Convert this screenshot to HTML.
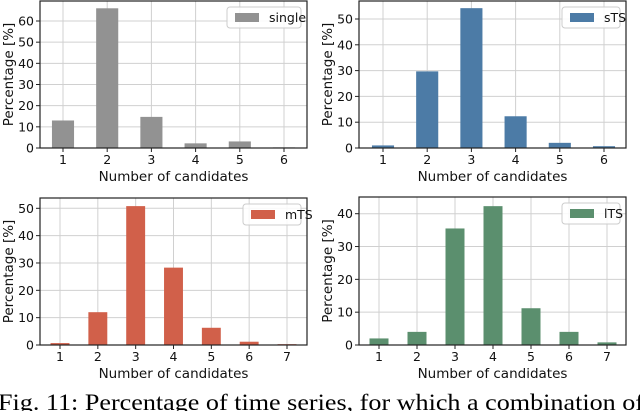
<!DOCTYPE html>
<html><head><meta charset="utf-8"><style>
html,body{margin:0;padding:0;background:#fff;width:640px;height:411px;overflow:hidden}
svg text{font-family:"DejaVu Sans","Liberation Sans",sans-serif}
</style></head><body>
<svg id="fig" width="640" height="411" viewBox="0 0 640 411" xmlns="http://www.w3.org/2000/svg">
<text x="-2" y="410" font-size="23.5" textLength="646" lengthAdjust="spacingAndGlyphs" style="font-family:'Liberation Serif',serif">Fig. 11: Percentage of time series, for which a combination of</text>
</svg>
<script>
const singleCats = [1,2,3,4,5,6];
const singleVals = [13, 66, 14.7, 2.2, 3.1, 0.3];
const singleTicks = [0,10,20,30,40,50,60];
const stsCats = [1,2,3,4,5,6];
const stsVals = [1, 29.7, 54.2, 12.3, 2, 0.7];
const stsTicks = [0,10,20,30,40,50];
const mtsCats = [1,2,3,4,5,6,7];
const mtsVals = [0.7, 12, 50.8, 28.3, 6.3, 1.2, 0.3];
const mtsTicks = [0,10,20,30,40,50];
const ltsCats = [1,2,3,4,5,6,7];
const ltsVals = [2, 4, 35.5, 42.3, 11.2, 4, 0.8];
const ltsTicks = [0,10,20,30,40];

const NS = "http://www.w3.org/2000/svg";
const svg = document.getElementById('fig');
function mk(tag, attrs, parent){ const e=document.createElementNS(NS,tag); for(const k in attrs) e.setAttribute(k,attrs[k]); (parent||svg).appendChild(e); return e; }

function panel(id, cats, vals, ticks, label, color, L, R, T, B, x1, xN, yTopVal){
  const g = mk('g',{});
  
  
  const n = cats.length;
  const step = (xN - x1)/(n-1);
  const xs = c => x1 + (c - cats[0])*step;
  const ys = v => B - v*(B - yTopVal.py)/yTopVal.v;
  ticks.forEach(t=>{ const y=ys(t); if(y>T) mk('line',{x1:L,x2:R,y1:y,y2:y,stroke:'#d0d0d0','stroke-width':1},g); });
  cats.forEach(c=>{ const x=xs(c); mk('line',{x1:x,x2:x,y1:T,y2:B,stroke:'#d0d0d0','stroke-width':1},g); });
  const bw = step*0.5;
  vals.forEach((v,i)=>{
    const r = mk('rect',{x:xs(cats[i])-bw/2,y:ys(v),width:bw,height:B-ys(v),fill:color},g);
    
    
  });
  mk('rect',{x:L,y:T,width:R-L,height:B-T,fill:'none',stroke:'#222','stroke-width':1.2},g);
  ticks.forEach(t=>{ const y=ys(t);
    mk('line',{x1:L-4,x2:L,y1:y,y2:y,stroke:'#222'},g);
    const tx = mk('text',{x:L-6,y:y+4.5,'font-size':12.5,'text-anchor':'end',fill:'#111'},g); tx.textContent=t;
    
    
  });
  cats.forEach(c=>{ const x=xs(c);
    mk('line',{x1:x,x2:x,y1:B,y2:B+4,stroke:'#222'},g);
    const tx = mk('text',{x:x,y:B+16,'font-size':12.5,'text-anchor':'middle',fill:'#111'},g); tx.textContent=c;
    
    
  });
  const xl = mk('text',{x:(L+R)/2,y:B+33,'font-size':13.5,'text-anchor':'middle',fill:'#111'},g);
  xl.textContent='Number of candidates';
  
  
  const cy=(T+B)/2;
  const yl = mk('text',{x:0,y:0,'font-size':13.5,'text-anchor':'middle',fill:'#111',transform:`translate(${L-27},${cy}) rotate(-90)`},g);
  yl.textContent='Percentage [%]';
  
  
  const lg = mk('g',{},g);
  
  
  const lw = label==='single'?74:58;
  mk('rect',{x:R-6-lw,y:T+6,width:lw,height:21,rx:3,fill:'#fff','fill-opacity':0.85,stroke:'#ccc'},lg);
  mk('rect',{x:R-6-lw+8,y:T+12,width:24,height:9,fill:color},lg);
  const lt = mk('text',{x:R-6-lw+42,y:T+21,'font-size':12.5,fill:'#111'},lg); lt.textContent=label;
}
panel('single', singleCats, singleVals, singleTicks, 'single', '#929292', 40, 307, 1, 148, 63, 284, {v:60,py:21});
panel('sts', stsCats, stsVals, stsTicks, 'sTS', '#4c7ba6', 359, 626, 1, 148, 383, 604, {v:50,py:19});
panel('mts', mtsCats, mtsVals, mtsTicks, 'mTS', '#d1604a', 40, 307, 198, 345, 60, 287, {v:50,py:208.3});
panel('lts', ltsCats, ltsVals, ltsTicks, 'lTS', '#5b8f6e', 359, 626, 197, 345, 379, 607, {v:40,py:213.7});
</script>
</body></html>
